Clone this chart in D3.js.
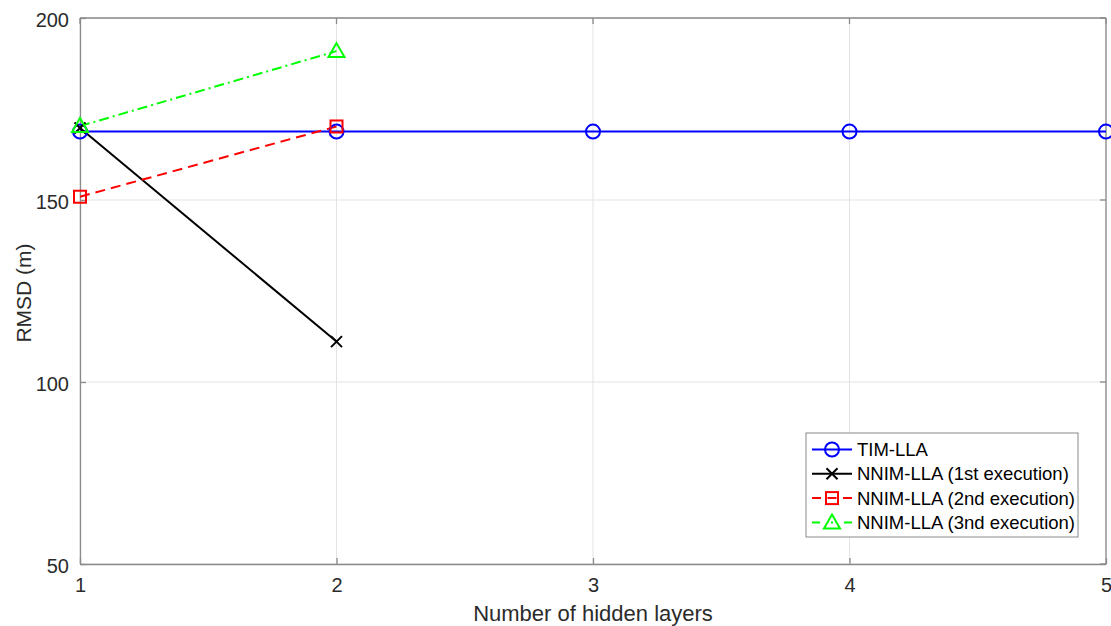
<!DOCTYPE html>
<html>
<head>
<meta charset="utf-8">
<script src="https://cdn.jsdelivr.net/npm/d3@7"></script>
<style>
  html, body { margin: 0; padding: 0; background: #fff; }
  svg { display: block; font-family: "Liberation Sans", Arial, sans-serif; }
</style>
</head>
<body>
<svg id="chart" width="1111" height="626"></svg>
<script>
// Number of hidden layers on the x axis
const layers = [1, 2, 3, 4, 5];
const xTicks = [1, 2, 3, 4, 5];
const yTicks = [50, 100, 150, 200];

// RMSD values (m) for each model
const timLLA = [168.8, 168.8, 168.8, 168.8, 168.8];
const nnim1st = [169.8, 111.1];
const nnim2nd = [150.9, 170.2];
const nnim3rd = [170.3, 190.9];

const seriesNames = [
  "TIM-LLA",
  "NNIM-LLA (1st execution)",
  "NNIM-LLA (2nd execution)",
  "NNIM-LLA (3nd execution)"
];

const svg = d3.select("#chart");
const margin = { left: 80, right: 5, top: 18, bottom: 62 };
const W = 1111, H = 626;

const x = d3.scaleLinear().domain([1, 5]).range([margin.left, W - margin.right]);
const y = d3.scaleLinear().domain([50, 200]).range([H - margin.bottom, margin.top]);

const axisColor = "#8a8a8a";
const textColor = "#2b2b2b";

// grid
const grid = svg.append("g");
grid.selectAll("line.gx").data(xTicks).join("line")
  .attr("x1", d => x(d)).attr("x2", d => x(d))
  .attr("y1", y(50)).attr("y2", y(200))
  .attr("stroke", "#e3e3e3").attr("stroke-width", 1);
grid.selectAll("line.gy").data(yTicks).join("line")
  .attr("x1", x(1)).attr("x2", x(5))
  .attr("y1", d => y(d)).attr("y2", d => y(d))
  .attr("stroke", "#e3e3e3").attr("stroke-width", 1);

// axes with inward ticks
const xAxis = d3.axisBottom(x).tickValues(xTicks).tickFormat(d3.format("d")).tickSizeInner(-6).tickSizeOuter(0).tickPadding(14);
const yAxis = d3.axisLeft(y).tickValues(yTicks).tickFormat(d3.format("d")).tickSizeInner(-6).tickSizeOuter(0).tickPadding(11);

const gx = svg.append("g").attr("transform", `translate(0,${y(50)})`).call(xAxis);
const gy = svg.append("g").attr("transform", `translate(${x(1)},0)`).call(yAxis);
[gx, gy].forEach(g => {
  g.select(".domain").attr("stroke", axisColor).attr("stroke-width", 1.3);
  g.selectAll(".tick line").attr("stroke", axisColor).attr("stroke-width", 1.3);
  g.selectAll(".tick text").attr("fill", textColor).attr("font-size", 20)
    .attr("font-family", "Liberation Sans, Arial, sans-serif");
});
gx.selectAll(".tick text").attr("dy", "0.71em");
gy.selectAll(".tick text").attr("dy", "0.4em");

// top and right box edges with ticks
const box = svg.append("g");
box.append("line").attr("x1", x(1)).attr("x2", x(5)).attr("y1", y(200)).attr("y2", y(200))
  .attr("stroke", axisColor).attr("stroke-width", 1.3);
box.append("line").attr("x1", x(5)).attr("x2", x(5)).attr("y1", y(200)).attr("y2", y(50))
  .attr("stroke", axisColor).attr("stroke-width", 1.3);
box.selectAll("line.tt").data(xTicks).join("line")
  .attr("x1", d => x(d)).attr("x2", d => x(d)).attr("y1", y(200)).attr("y2", y(200) + 6)
  .attr("stroke", axisColor).attr("stroke-width", 1.3);
box.selectAll("line.rt").data(yTicks).join("line")
  .attr("x1", x(5)).attr("x2", x(5) - 6).attr("y1", d => y(d)).attr("y2", d => y(d))
  .attr("stroke", axisColor).attr("stroke-width", 1.3);

// axis titles
svg.append("text").attr("x", (x(1) + x(5)) / 2).attr("y", 621)
  .attr("text-anchor", "middle").attr("font-size", 22).attr("fill", textColor)
  .text("Number of hidden layers");
svg.append("text").attr("transform", `translate(31,${(y(50) + y(200)) / 2 + 2}) rotate(-90)`)
  .attr("text-anchor", "middle").attr("font-size", 21).attr("fill", textColor)
  .text("RMSD (m)");

// marker drawing helpers
function drawMarker(g, type, cx, cy, color) {
  if (type === "circle") {
    g.append("circle").attr("cx", cx).attr("cy", cy).attr("r", 7)
      .attr("fill", "none").attr("stroke", color).attr("stroke-width", 2);
  } else if (type === "x") {
    const s = 5.5;
    g.append("path").attr("d", `M${cx - s},${cy - s}L${cx + s},${cy + s}M${cx - s},${cy + s}L${cx + s},${cy - s}`)
      .attr("stroke", color).attr("stroke-width", 2).attr("fill", "none");
  } else if (type === "square") {
    const s = 6;
    g.append("rect").attr("x", cx - s).attr("y", cy - s).attr("width", 2 * s).attr("height", 2 * s)
      .attr("fill", "none").attr("stroke", color).attr("stroke-width", 2);
  } else if (type === "triangle") {
    const s = 8;
    g.append("path").attr("d", `M${cx},${cy - s}L${cx + s},${cy + s * 0.75}L${cx - s},${cy + s * 0.75}Z`)
      .attr("fill", "none").attr("stroke", color).attr("stroke-width", 2);
  }
}

const series = [
  { name: seriesNames[0], values: timLLA, color: "#0000ff", dash: null, legendDash: null, marker: "circle" },
  { name: seriesNames[1], values: nnim1st, color: "#000000", dash: null, legendDash: null, marker: "x" },
  { name: seriesNames[2], values: nnim2nd, color: "#ff0000", dash: "10,6", legendDash: "9,6.5", marker: "square" },
  { name: seriesNames[3], values: nnim3rd, color: "#00ff00", dash: "10,4,2,4", legendDash: "8,11,2,11,8", marker: "triangle" }
];

const line = d3.line().x(d => x(d[0])).y(d => y(d[1]));
const plot = svg.append("g");

series.forEach(s => {
  const pts = s.values.map((v, i) => [layers[i], v]);
  plot.append("path").datum(pts).attr("d", line)
    .attr("fill", "none").attr("stroke", s.color).attr("stroke-width", 2)
    .attr("stroke-dasharray", s.dash);
});
series.forEach(s => {
  const g = plot.append("g");
  s.values.forEach((v, i) => drawMarker(g, s.marker, x(layers[i]), y(v), s.color));
});

// legend
const lg = svg.append("g").attr("transform", "translate(806,433)");
lg.append("rect").attr("x", 0).attr("y", 0).attr("width", 272).attr("height", 104)
  .attr("fill", "#fff").attr("stroke", "#8a8a8a").attr("stroke-width", 1);
series.forEach((s, i) => {
  const cy = 16.5 + i * 24.3;
  const g = lg.append("g");
  g.append("line").attr("x1", 6).attr("x2", 46).attr("y1", cy).attr("y2", cy)
    .attr("stroke", s.color).attr("stroke-width", 2).attr("stroke-dasharray", s.legendDash);
  drawMarker(g, s.marker, 26, cy, s.color);
  lg.append("text").attr("x", 51).attr("y", cy).attr("dy", "0.36em")
    .attr("font-size", 18.5).attr("fill", "#000").text(s.name);
});
</script>
</body>
</html>
